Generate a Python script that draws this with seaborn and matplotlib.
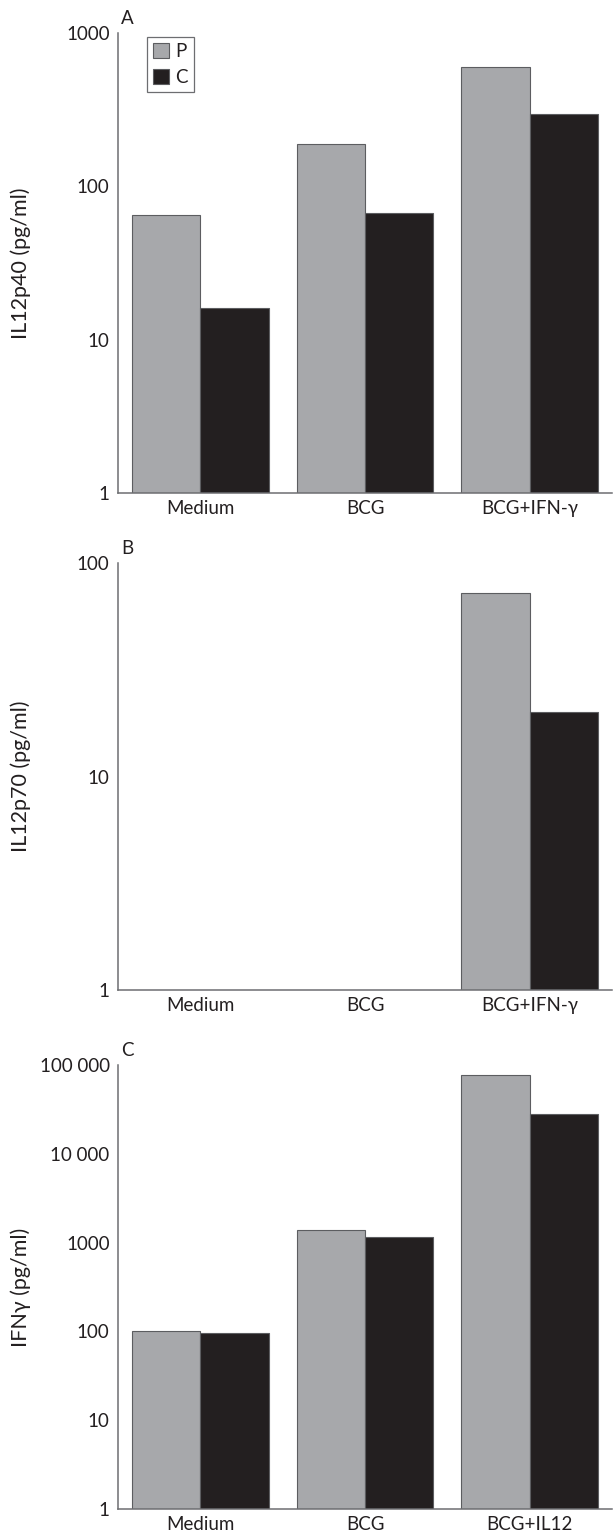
import numpy as np
import pandas as pd
import seaborn as sns
import matplotlib.pyplot as plt
from matplotlib.ticker import NullLocator

# categories
stimuli_ab = ['Medium', 'BCG', 'BCG+IFN-γ']
stimuli_c = ['Medium', 'BCG', 'BCG+IL12']
groups = ['P', 'C']

# values (pg/ml), NaN = no bar
il12p40_p = [65, 190, 600]
il12p40_c = [16, 67, 295]
il12p70_p = [np.nan, np.nan, 72]
il12p70_c = [np.nan, np.nan, 20]
ifng_p = [100, 1400, 77000]
ifng_c = [97, 1150, 28000]

ticks_a = [1, 10, 100, 1000]
ticklabels_a = ['1', '10', '100', '1000']
ticks_b = [1, 10, 100]
ticklabels_b = ['1', '10', '100']
ticks_c = [1, 10, 100, 1000, 10000, 100000]
ticklabels_c = ['1', '10', '100', '1000', '10 000', '100 000']

GREY = '#a7a8ab'
BLACK = '#231f20'
EDGE = '#5c5d60'
AXIS = '#6d6e71'
PALETTE = {'P': GREY, 'C': BLACK}

sns.set_theme(style='white')
plt.rcParams['font.family'] = ['Lato', 'DejaVu Sans']
plt.rcParams['text.color'] = BLACK
plt.rcParams['xtick.color'] = BLACK
plt.rcParams['ytick.color'] = BLACK
plt.rcParams['axes.labelcolor'] = BLACK


def draw_panel(ax, stimuli, p_vals, c_vals, ylabel, letter, ticks, ticklabels, legend=False):

    df = pd.DataFrame({
        'Stimulus': stimuli * 2,
        'Group': ['P'] * len(stimuli) + ['C'] * len(stimuli),
        'Value': list(p_vals) + list(c_vals),
    })

    sns.barplot(data=df, x='Stimulus', y='Value', hue='Group',
                order=stimuli, hue_order=groups, palette=PALETTE,
                width=0.83, errorbar=None, edgecolor=EDGE, linewidth=0.8,
                saturation=1, legend=legend, ax=ax)

    # bars start at 0, clipped once the axis is switched to log
    ax.set_yscale('log', nonpositive='clip')
    ax.set_xlim(-0.5, 2.5)
    ax.set_ylim(ticks[0], ticks[-1])
    ax.set_yticks(ticks, ticklabels)
    ax.yaxis.set_minor_locator(NullLocator())
    ax.set_xticks([0.5, 1.5], minor=True)

    for side in ['top', 'right']:
        ax.spines[side].set_visible(False)
    for side in ['left', 'bottom']:
        ax.spines[side].set_color(AXIS)
        ax.spines[side].set_linewidth(1.1)
        ax.spines[side].set_zorder(5)

    ax.tick_params(axis='y', which='major', direction='in', length=10,
                   width=1.0, color=BLACK, labelsize=13.5, pad=6)
    ax.tick_params(axis='x', which='major', length=0, labelsize=13.5, pad=5)
    ax.tick_params(axis='x', which='minor', direction='in', length=11,
                   width=1.0, color=BLACK)

    ax.set_xlabel('')
    ax.set_ylabel(ylabel, fontsize=15.5)
    ax.yaxis.set_label_coords(-0.176, 0.5)

    ax.annotate(letter, xy=(0, 1), xycoords='axes fraction',
                xytext=(2, 4), textcoords='offset points',
                ha='left', va='bottom', fontsize=13.5)

    if legend:
        sns.move_legend(ax, 'upper left', bbox_to_anchor=(0.058, 0.992),
                        title=None, frameon=True, fontsize=13.5,
                        handlelength=0.85, handleheight=0.85,
                        handletextpad=0.3, borderpad=0.35, labelspacing=0.45,
                        borderaxespad=0, fancybox=False)
        frame = ax.get_legend().get_frame()
        frame.set_edgecolor(AXIS)
        frame.set_linewidth(0.9)
        frame.set_alpha(1)


fig = plt.figure(figsize=(6.13, 15.37), dpi=100)

left = 118 / 613
width = 494 / 613
ax_a = fig.add_axes([left, 1 - 493 / 1537, width, 460 / 1537])
ax_b = fig.add_axes([left, 1 - 990 / 1537, width, 427 / 1537])
ax_c = fig.add_axes([left, 1 - 1509 / 1537, width, 444 / 1537])

draw_panel(ax_a, stimuli_ab, il12p40_p, il12p40_c, 'IL12p40 (pg/ml)', 'A',
           ticks_a, ticklabels_a, legend=True)
draw_panel(ax_b, stimuli_ab, il12p70_p, il12p70_c, 'IL12p70 (pg/ml)', 'B',
           ticks_b, ticklabels_b)
draw_panel(ax_c, stimuli_c, ifng_p, ifng_c, 'IFNγ (pg/ml)', 'C',
           ticks_c, ticklabels_c)

fig.savefig('out.png', dpi=100)
